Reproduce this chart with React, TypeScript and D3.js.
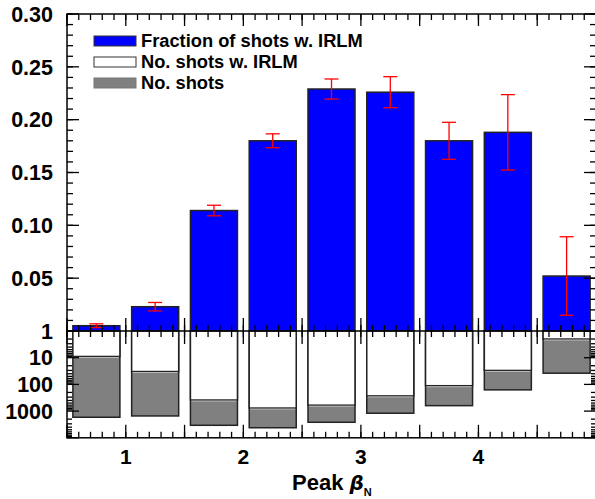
import React from 'react';
import * as d3 from 'd3';

const binCenters = [0.75, 1.25, 1.75, 2.25, 2.75, 3.25, 3.75, 4.25, 4.75];
const fraction = [0.005, 0.023, 0.114, 0.18, 0.229, 0.226, 0.18, 0.188, 0.052];
const fractionErr = [0.0018, 0.004, 0.005, 0.0066, 0.0095, 0.0147, 0.0175, 0.0357, 0.0372];
const nShotsIRLM = [9, 33, 385, 770, 600, 270, 112, 30, 2];
const nShots = [1700, 1520, 3400, 4200, 2620, 1200, 625, 160, 38];

const xTickLabels = ['1', '2', '3', '4'];
const yTickLabels = ['0.05', '0.10', '0.15', '0.20', '0.25', '0.30'];
const logTickLabels = ['1', '10', '100', '1000'];
const legendLabels = ['Fraction of shots w. IRLM', 'No. shots w. IRLM', 'No. shots'];

const W = 595;
const H = 499;
const L = 67;
const R = 596;
const T = 14;
const MID = 331;
const B = 437.8;
const FONT = '"Liberation Sans", Arial, Helvetica, sans-serif';

export default function App() {
  const x = d3.scaleLinear().domain([0.5, 5.0]).range([L, R]);
  const yTop = d3.scaleLinear().domain([0, 0.3]).range([MID, T]);
  const yBot = d3.scaleLog().domain([1, 1e4]).range([MID, B]);
  const barW = x(0.4) - x(0);

  const xMajor = d3.range(0, 10).map((i) => 0.5 + i * 0.5);
  const xMinor = d3.range(0, 46).map((i) => 0.5 + i * 0.1);
  const yMajor = d3.range(0, 7).map((i) => i * 0.05);
  const yMinor = d3.range(0, 31).map((i) => i * 0.01);
  const logMajor = [1, 10, 100, 1000, 10000];
  const logMinor: number[] = [];
  [1, 10, 100, 1000].forEach((d) => {
    for (let k = 2; k <= 9; k++) logMinor.push(d * k);
  });

  const tickColor = '#000';
  const lines: JSX.Element[] = [];
  let key = 0;
  const ln = (x1: number, y1: number, x2: number, y2: number, w = 1.3) =>
    lines.push(<line key={key++} x1={x1} y1={y1} x2={x2} y2={y2} stroke={tickColor} strokeWidth={w} />);

  xMinor.forEach((v) => {
    const px = x(v);
    ln(px, T, px, T + 6);
    ln(px, MID - 6, px, MID + 6);
    ln(px, B, px, B - 6);
  });
  xMajor.forEach((v) => {
    const px = x(v);
    ln(px, T, px, T + 12);
    ln(px, MID - 13, px, MID + 13);
    ln(px, B, px, B - 13);
  });
  yMinor.forEach((v) => {
    ln(L, yTop(v), L + 6, yTop(v));
    ln(R, yTop(v), R - 6, yTop(v));
  });
  yMajor.forEach((v) => {
    ln(L, yTop(v), L + 12, yTop(v));
    ln(R, yTop(v), R - 12, yTop(v));
  });
  logMinor.forEach((v) => {
    ln(L, yBot(v), L + 5, yBot(v));
    ln(R, yBot(v), R - 5, yBot(v));
  });
  logMajor.forEach((v) => {
    ln(L, yBot(v), L + 12, yBot(v));
    ln(R, yBot(v), R - 12, yBot(v));
  });

  return (
    <svg width={W} height={H} style={{ position: 'fixed', left: 0, top: 0 }} fontFamily={FONT}>
      <rect x={0} y={0} width={W} height={H} fill="#fff" />
      {binCenters.map((c, i) => (
        <rect
          key={'ub' + i}
          x={x(c) - barW / 2}
          y={yTop(fraction[i])}
          width={barW}
          height={MID - yTop(fraction[i])}
          fill="#0000ff"
          stroke="#222"
          strokeWidth={1.5}
        />
      ))}
      {binCenters.map((c, i) => (
        <g key={'lb' + i}>
          <rect
            x={x(c) - barW / 2}
            y={MID}
            width={barW}
            height={yBot(nShots[i]) - MID}
            fill="#808080"
            stroke="#222"
            strokeWidth={1.5}
          />
          <rect
            x={x(c) - barW / 2}
            y={MID}
            width={barW}
            height={yBot(nShotsIRLM[i]) - MID}
            fill="#fff"
            stroke="#222"
            strokeWidth={1.5}
          />
          <line
            x1={x(c) - barW / 2 + 1}
            x2={x(c) + barW / 2 - 1}
            y1={yBot(nShotsIRLM[i]) + 1}
            y2={yBot(nShotsIRLM[i]) + 1}
            stroke="#bbb"
            strokeWidth={1}
          />
        </g>
      ))}
      {binCenters.map((c, i) => {
        const px = x(c);
        const y1 = yTop(fraction[i] + fractionErr[i]);
        const y2 = yTop(fraction[i] - fractionErr[i]);
        return (
          <g key={'eb' + i} stroke="#ff0000" strokeWidth={1.3}>
            <line x1={px} x2={px} y1={y1} y2={y2} />
            <line x1={px - 7} x2={px + 7} y1={y1} y2={y1} />
            <line x1={px - 7} x2={px + 7} y1={y2} y2={y2} />
          </g>
        );
      })}
      {lines}
      <rect x={L} y={T} width={R - L} height={B - T} fill="none" stroke="#000" strokeWidth={1.5} />
      <line x1={L} x2={R} y1={MID} y2={MID} stroke="#000" strokeWidth={1.5} />
      {yTickLabels.map((t, i) => (
        <text key={'yl' + i} x={53} y={yTop(yMajor[i + 1])} dy="0.36em" textAnchor="end" fontSize={21.5} fontWeight="bold">
          {t}
        </text>
      ))}
      {logTickLabels.map((t, i) => (
        <text key={'ll' + i} x={53} y={yBot(logMajor[i])} dy="0.36em" textAnchor="end" fontSize={21.5} fontWeight="bold">
          {t}
        </text>
      ))}
      {xTickLabels.map((t, i) => (
        <text key={'xl' + i} x={x(i + 1)} y={464} textAnchor="middle" fontSize={21} fontWeight="bold">
          {t}
        </text>
      ))}
      <text x={292} y={490} fontSize={22} fontWeight="bold">
        Peak{' '}
        <tspan fontStyle="italic" fontFamily='"DejaVu Sans", sans-serif' fontSize={20}>β</tspan>
        <tspan fontSize={11} dy={6}>N</tspan>
      </text>
      <rect x={94} y={36} width={42} height={10} fill="#0000ff" stroke="#333" strokeWidth={1} />
      <rect x={94} y={57} width={42} height={10} fill="#fff" stroke="#333" strokeWidth={1} />
      <rect x={94} y={78} width={42} height={10} fill="#808080" stroke="#777" strokeWidth={1} />
      {legendLabels.map((t, i) => (
        <text key={'lg' + i} x={141} y={47 + i * 21} fontSize={18.3} fontWeight="bold">
          {t}
        </text>
      ))}
    </svg>
  );
}
